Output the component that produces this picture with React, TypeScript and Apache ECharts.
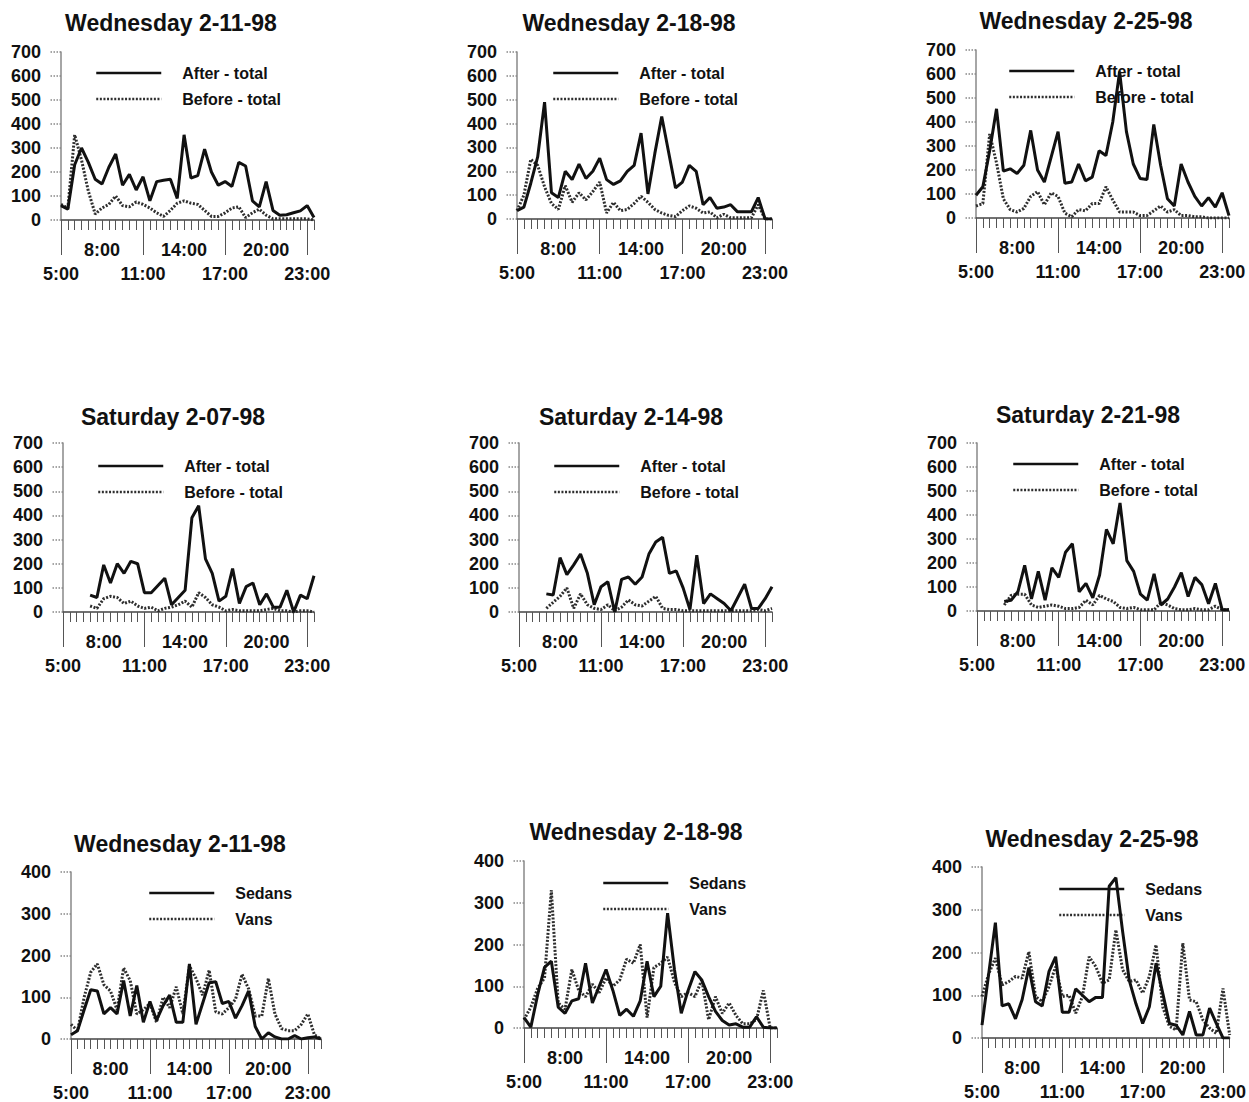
import { useEffect, useRef } from 'react';
import * as echarts from 'echarts';

// Half-hourly time categories
const TIMES = [
  '5:00', '5:30', '6:00', '6:30', '7:00', '7:30', '8:00', '8:30', '9:00', '9:30',
  '10:00', '10:30', '11:00', '11:30', '12:00', '12:30', '13:00', '13:30', '14:00', '14:30',
  '15:00', '15:30', '16:00', '16:30', '17:00', '17:30', '18:00', '18:30', '19:00', '19:30',
  '20:00', '20:30', '21:00', '21:30', '22:00', '22:30', '23:00', '23:30', '24:00',
];
const UPPER_LABELS = ['8:00', '14:00', '20:00'];
const LOWER_LABELS = ['5:00', '11:00', '17:00', '23:00'];

const TOTAL_NAMES = ['After - total', 'Before - total'];
const TYPE_NAMES = ['Sedans', 'Vans'];

const titles = [
  'Wednesday 2-11-98', 'Wednesday 2-18-98', 'Wednesday 2-25-98',
  'Saturday 2-07-98', 'Saturday 2-14-98', 'Saturday 2-21-98',
  'Wednesday 2-11-98', 'Wednesday 2-18-98', 'Wednesday 2-25-98',
];

const w211After = [60, 45, 230, 300, 240, 170, 150, 220, 275, 145, 190, 125, 180, 80, 160, 166, 170, 90, 355, 175, 185, 295, 200, 145, 160, 140, 240, 225, 80, 55, 160, 40, 20, 22, 30, 38, 60, 10];
const w211Before = [65, 50, 355, 250, 120, 25, 50, 65, 100, 60, 55, 75, 65, 50, 30, 15, 40, 70, 80, 70, 65, 40, 15, 15, 30, 50, 55, 10, 30, 45, 20, 5, 5, 5, 5, 5, 5, 0];

const w218After = [35, 50, 150, 260, 490, 110, 90, 200, 165, 230, 170, 200, 255, 165, 145, 160, 200, 225, 360, 105, 275, 430, 280, 130, 155, 225, 200, 60, 90, 45, 50, 60, 30, 30, 30, 90, 0, 0];
const w218Before = [35, 100, 250, 225, 135, 65, 40, 140, 70, 110, 80, 115, 155, 25, 70, 35, 40, 65, 95, 70, 40, 25, 15, 10, 35, 55, 45, 25, 30, 5, 20, 5, 5, 5, 5, 60, 0, 0];

const w225After = [95, 130, 280, 455, 195, 205, 185, 220, 365, 200, 150, 255, 360, 145, 150, 225, 155, 170, 280, 260, 400, 610, 360, 225, 165, 160, 390, 220, 80, 50, 225, 150, 90, 50, 85, 45, 105, 10];
const w225Before = [50, 60, 350, 230, 80, 35, 25, 40, 90, 110, 55, 105, 90, 20, 5, 35, 30, 60, 60, 130, 75, 25, 25, 25, 10, 10, 30, 50, 25, 35, 10, 10, 5, 5, 0, 0, 0, 0];

const s207After = [null, null, null, null, 70, 60, 195, 120, 200, 160, 210, 200, 80, 80, 110, 140, 30, 60, 90, 390, 440, 220, 160, 45, 65, 180, 35, 105, 120, 30, 75, 20, 20, 90, 0, 70, 55, 150];
const s207Before = [null, null, null, null, 25, 15, 55, 65, 60, 35, 45, 25, 15, 20, 5, 15, 20, 30, 45, 20, 80, 60, 30, 20, 5, 10, 5, 5, 5, 5, 10, 15, 5, 5, 0, 5, 5, 0];

const s214After = [null, null, null, null, 75, 70, 225, 155, 195, 240, 160, 30, 105, 125, 0, 135, 145, 115, 145, 240, 290, 310, 160, 170, 100, 10, 235, 35, 75, 55, 35, 5, 60, 115, 15, 15, 55, 105];
const s214Before = [null, null, null, null, 15, 40, 65, 100, 15, 75, 30, 15, 10, 30, 5, 20, 50, 30, 25, 45, 65, 15, 10, 10, 5, 5, 5, 5, 5, 5, 5, 5, 5, 5, 5, 10, 5, 15];

const s221After = [null, null, null, null, 40, 45, 80, 190, 50, 165, 45, 180, 140, 245, 280, 80, 115, 55, 150, 340, 280, 450, 210, 165, 70, 45, 155, 25, 50, 100, 160, 60, 140, 110, 30, 115, 5, 5];
const s221Before = [null, null, null, null, 25, 65, 70, 70, 25, 15, 20, 25, 20, 10, 10, 15, 45, 25, 65, 50, 40, 15, 10, 15, 5, 5, 5, 35, 25, 10, 5, 5, 10, 5, 5, 20, 5, 5];

const w211Sedans = [10, 20, 70, 118, 115, 60, 75, 60, 140, 55, 128, 40, 90, 45, 80, 105, 40, 40, 180, 35, 85, 135, 137, 85, 90, 50, 80, 115, 30, 0, 15, 5, 0, 0, 8, 0, 3, 5, 0];
const w211Vans = [35, 20, 100, 160, 180, 130, 115, 70, 170, 140, 60, 70, 85, 40, 100, 75, 125, 60, 175, 145, 105, 165, 65, 60, 75, 95, 155, 120, 55, 55, 145, 60, 25, 20, 20, 35, 60, 10, 0];

const w218Sedans = [25, 2, 80, 145, 160, 50, 35, 65, 70, 155, 60, 100, 140, 90, 30, 45, 28, 65, 160, 75, 100, 275, 140, 35, 90, 135, 115, 75, 40, 18, 7, 10, 2, 2, 27, 2, 0, 0];
const w218Vans = [20, 50, 95, 120, 330, 60, 45, 140, 90, 75, 105, 85, 120, 100, 115, 165, 155, 200, 25, 145, 155, 170, 110, 75, 85, 75, 115, 20, 75, 35, 60, 30, 10, 10, 20, 90, 0, 0];

const w225Sedans = [30, 150, 270, 75, 80, 45, 90, 165, 85, 75, 155, 190, 60, 60, 115, 100, 85, 95, 95, 355, 375, 250, 135, 80, 34, 73, 175, 105, 34, 30, 7, 62, 7, 7, 70, 34, 0, 0];
const w225Vans = [97, 150, 187, 124, 132, 144, 140, 202, 97, 85, 120, 167, 97, 100, 58, 97, 190, 167, 128, 136, 253, 160, 132, 136, 105, 144, 218, 73, 27, 19, 222, 89, 85, 42, 23, 11, 116, 7];

const seriesPairs = [
  [w211After, w211Before], [w218After, w218Before], [w225After, w225Before],
  [s207After, s207Before], [s214After, s214Before], [s221After, s221Before],
  [w211Sedans, w211Vans], [w218Sedans, w218Vans], [w225Sedans, w225Vans],
];
const yMaxes = [700, 700, 700, 700, 700, 700, 400, 400, 400];

// layout (pixels)
const layout = [
  { left: 61, top: 52, width: 253, height: 168, cx: 171, ty: 11, lx: 95, ly: 65 },
  { left: 517, top: 52, width: 255, height: 167, cx: 629, ty: 11, lx: 552, ly: 65 },
  { left: 976, top: 50, width: 253, height: 168, cx: 1086, ty: 9, lx: 1008, ly: 63 },
  { left: 63, top: 443, width: 251, height: 169, cx: 173, ty: 405, lx: 97, ly: 458 },
  { left: 519, top: 443, width: 253, height: 169, cx: 631, ty: 405, lx: 553, ly: 458 },
  { left: 977, top: 443, width: 252, height: 168, cx: 1088, ty: 403, lx: 1012, ly: 456 },
  { left: 71, top: 872, width: 250, height: 167, cx: 180, ty: 832, lx: 148, ly: 885 },
  { left: 524, top: 861, width: 253, height: 167, cx: 636, ty: 820, lx: 602, ly: 875 },
  { left: 982, top: 867, width: 250, height: 171, cx: 1092, ty: 827, lx: 1058, ly: 881 },
];

const FONT = "'Liberation Sans', Arial, Helvetica, sans-serif";
const labelStyle = { fontSize: 18, fontWeight: 'bold', color: '#111', fontFamily: FONT };

function buildOption() {
  const grid: any[] = [];
  const xAxis: any[] = [];
  const yAxis: any[] = [];
  const series: any[] = [];
  const title: any[] = [];
  const legend: any[] = [];

  layout.forEach((L, k) => {
    const pair = seriesPairs[k];
    const n = pair[0].length;
    const cats = TIMES.slice(0, n);
    const names = k < 6 ? TOTAL_NAMES : TYPE_NAMES;
    grid.push({ left: L.left, top: L.top, width: L.width, height: L.height, containLabel: false });
    xAxis.push({
      type: 'category', gridIndex: k, position: 'bottom', data: cats, boundaryGap: false,
      axisLine: { show: true, lineStyle: { color: '#444', width: 1.5 } },
      axisTick: { show: true, interval: 0, length: 10, lineStyle: { color: '#555', width: 1 } },
      axisLabel: { ...labelStyle, interval: (_i: number, v: string) => UPPER_LABELS.includes(v), margin: 21 },
      splitLine: { show: false },
    });
    xAxis.push({
      type: 'category', gridIndex: k, position: 'bottom', data: cats, boundaryGap: false,
      axisLine: { show: false },
      axisTick: { show: true, interval: (_i: number, v: string) => LOWER_LABELS.includes(v), length: 35, lineStyle: { color: '#555', width: 1 } },
      axisLabel: { ...labelStyle, interval: (_i: number, v: string) => LOWER_LABELS.includes(v), margin: 45 },
      splitLine: { show: false },
    });
    yAxis.push({
      type: 'value', gridIndex: k, min: 0, max: yMaxes[k], interval: 100,
      axisLine: { show: true, lineStyle: { color: '#888', width: 1.5 } },
      axisTick: { show: true, length: 12, lineStyle: { color: '#888', type: 'dotted', width: 1.5 } },
      axisLabel: { ...labelStyle, margin: 20 },
      splitLine: { show: false },
    });
    series.push({
      type: 'line', name: names[1], xAxisIndex: 2 * k, yAxisIndex: k, data: pair[1],
      symbol: 'none', connectNulls: false, z: 2,
      lineStyle: { color: '#2e2e2e', width: 3, type: [2, 1.6] },
      itemStyle: { color: '#2e2e2e' },
    });
    series.push({
      type: 'line', name: names[0], xAxisIndex: 2 * k, yAxisIndex: k, data: pair[0],
      symbol: 'none', connectNulls: false, z: 3,
      lineStyle: { color: '#111', width: 3 },
      itemStyle: { color: '#111' },
    });
    title.push({
      text: titles[k], left: L.cx, top: L.ty, textAlign: 'center', padding: 0,
      textStyle: { fontSize: 23, fontWeight: 'bold', color: '#111', fontFamily: FONT },
    });
    legend.push({
      show: true, orient: 'vertical', left: L.lx, top: L.ly, padding: 0,
      itemWidth: 65, itemHeight: 14, itemGap: 10, selectedMode: false, z: 1,
      itemStyle: { opacity: 0, borderWidth: 0 },
      lineStyle: { width: 2.5 },
      data: names,
      textStyle: { fontSize: 16, fontWeight: 'bold', color: '#111', fontFamily: FONT, padding: [0, 0, 0, 16] },
    });
  });

  return {
    animation: false,
    backgroundColor: '#fff',
    title, legend, grid, xAxis, yAxis, series,
  };
}

export default function App() {
  const ref = useRef<HTMLDivElement>(null);
  useEffect(() => {
    if (!ref.current) return;
    const chart = echarts.init(ref.current, null, { renderer: 'svg' });
    chart.setOption(buildOption() as any);
    return () => chart.dispose();
  }, []);
  return (
    <div
      ref={ref}
      style={{ position: 'absolute', left: 0, top: 0, width: 1249, height: 1102, background: '#fff' }}
    />
  );
}
